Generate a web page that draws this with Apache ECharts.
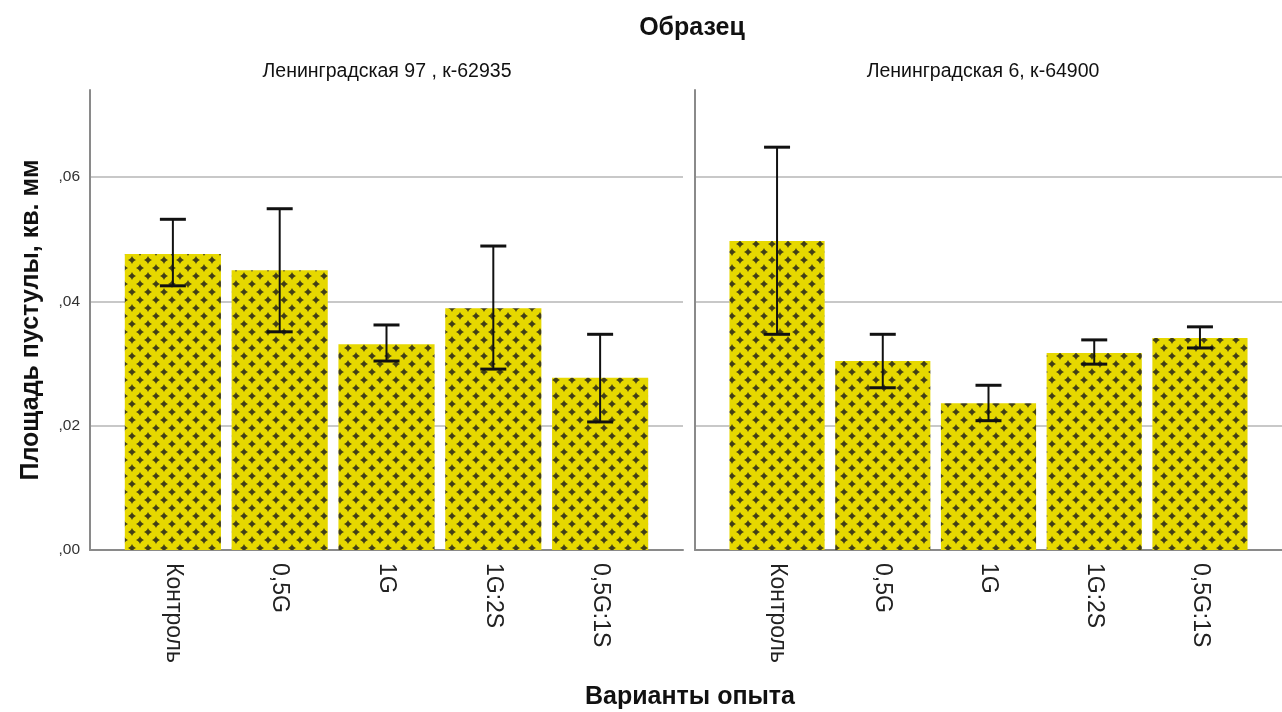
<!DOCTYPE html>
<html>
<head>
<meta charset="utf-8">
<script src="https://cdn.jsdelivr.net/npm/echarts@6/dist/echarts.min.js"></script>
<style>
html,body{margin:0;padding:0;background:#fff;}
#chart{width:1282px;height:712px;}
</style>
</head>
<body>
<div id="chart"></div>
<script>
// ---- data ----
const categories = ['Контроль', '0,5G', '1G', '1G:2S', '0,5G:1S'];
const panelTitles = ['Ленинградская 97 , к-62935', 'Ленинградская 6, к-64900'];
const meansLeft  = [0.0476, 0.0450, 0.0331, 0.0389, 0.0277];
const lowLeft    = [0.0425, 0.0351, 0.0304, 0.0291, 0.0206];
const highLeft   = [0.0532, 0.0549, 0.0362, 0.0489, 0.0347];
const meansRight = [0.0497, 0.0304, 0.0236, 0.0317, 0.0341];
const lowRight   = [0.0347, 0.0261, 0.0208, 0.0299, 0.0325];
const highRight  = [0.0648, 0.0347, 0.0265, 0.0338, 0.0359];
const yTickValues = [0, 0.02, 0.04, 0.06];
const yTickLabels = [',00', ',02', ',04', ',06'];
const mainTitle = 'Образец';
const xTitle = 'Варианты опыта';
const yTitle = 'Площадь пустулы, кв. мм';

// ---- pattern fill ----
function makePattern() {
  const c = document.createElement('canvas');
  c.width = 16; c.height = 16;
  const g = c.getContext('2d');
  g.fillStyle = '#e6d800';
  g.fillRect(0, 0, 16, 16);
  g.fillStyle = '#423f16';
  function star(cx, cy) {
    g.beginPath();
    g.moveTo(cx, cy - 4);
    g.lineTo(cx + 0.9, cy - 2.2);
    g.lineTo(cx + 2.2, cy - 0.9);
    g.lineTo(cx + 4, cy);
    g.lineTo(cx + 2.2, cy + 0.9);
    g.lineTo(cx + 0.9, cy + 2.2);
    g.lineTo(cx, cy + 4);
    g.lineTo(cx - 0.9, cy + 2.2);
    g.lineTo(cx - 2.2, cy + 0.9);
    g.lineTo(cx - 4, cy);
    g.lineTo(cx - 2.2, cy - 0.9);
    g.lineTo(cx - 0.9, cy - 2.2);
    g.closePath();
    g.fill();
  }
  [[4, 4], [12, 12], [-4, 12], [20, 4], [4, 20], [12, -4], [20, 20], [-4, -4], [20, -4], [-4, 20]].forEach(p => star(p[0], p[1]));
  return c;
}
const pattern = { image: makePattern(), repeat: 'repeat' };

const chart = echarts.init(document.getElementById('chart'), null, { renderer: 'canvas' });
const FONT = '"Liberation Sans", Arial, sans-serif';

function xAxisDef(gi) {
  return {
    type: 'value', gridIndex: gi, min: -0.776, max: 4.776,
    splitLine: { show: false },
    axisTick: { show: false },
    axisLine: { show: true, onZero: false, lineStyle: { color: '#8a8a8a', width: 2 } },
    axisLabel: {
      customValues: [0, 1, 2, 3, 4],
      formatter: v => categories[Math.round(v)],
      rotate: -90, margin: 13,
      fontFamily: FONT, fontSize: 23, color: '#222'
    }
  };
}
function yAxisDef(gi, showLabels) {
  return {
    type: 'value', gridIndex: gi, min: 0, max: 0.074, interval: 0.02,
    axisLine: { show: true, onZero: false, lineStyle: { color: '#8a8a8a', width: 2 } },
    axisTick: { show: false },
    splitLine: { show: true, lineStyle: { color: ['#c8c8c8', '#c8c8c8', '#c8c8c8', '#c8c8c8', 'rgba(0,0,0,0)'], width: 2 } },
    axisLabel: {
      show: showLabels, margin: 10,
      fontFamily: FONT, fontSize: 15.5, color: '#333',
      formatter: v => {
        const i = yTickValues.findIndex(t => Math.abs(t - v) < 1e-9);
        return i >= 0 ? yTickLabels[i] : '';
      }
    },
    name: showLabels ? yTitle : '',
    nameLocation: 'middle', nameRotate: 90, nameGap: 46,
    nameTextStyle: { fontFamily: FONT, fontSize: 25, fontWeight: 'bold', color: '#111' }
  };
}
function errRender(params, api) {
  const x = api.value(0), lo = api.value(1), hi = api.value(2);
  const pH = api.coord([x, hi]);
  const pL = api.coord([x, lo]);
  const w = 13;
  return {
    type: 'group',
    children: [
      { type: 'line', shape: { x1: pH[0], y1: pH[1], x2: pL[0], y2: pL[1] }, style: { stroke: '#111', lineWidth: 2 } },
      { type: 'line', shape: { x1: pH[0] - w, y1: pH[1], x2: pH[0] + w, y2: pH[1] }, style: { stroke: '#111', lineWidth: 3 } },
      { type: 'line', shape: { x1: pL[0] - w, y1: pL[1], x2: pL[0] + w, y2: pL[1] }, style: { stroke: '#111', lineWidth: 3 } }
    ]
  };
}
function barSeries(gi, means) {
  return {
    type: 'bar', xAxisIndex: gi, yAxisIndex: gi,
    data: means.map((v, i) => [i, v]),
    barWidth: '90%',
    itemStyle: { color: pattern },
    silent: true, z: 2
  };
}
function errSeries(gi, lows, highs) {
  return {
    type: 'custom', xAxisIndex: gi, yAxisIndex: gi,
    data: lows.map((lo, i) => [i, lo, highs[i]]),
    encode: { x: 0, y: [1, 2] },
    renderItem: errRender, silent: true, z: 5
  };
}

const option = {
  animation: false,
  backgroundColor: '#fff',
  grid: [
    { left: 90, width: 593, top: 90, bottom: 162 },
    { left: 695, width: 593, top: 90, bottom: 162 }
  ],
  xAxis: [xAxisDef(0), xAxisDef(1)],
  yAxis: [yAxisDef(0, true), yAxisDef(1, false)],
  series: [
    barSeries(0, meansLeft), errSeries(0, lowLeft, highLeft),
    barSeries(1, meansRight), errSeries(1, lowRight, highRight)
  ],
  graphic: [
    { type: 'text', x: 692, y: 28, style: { text: mainTitle, fontFamily: FONT, fontSize: 25, fontWeight: 'bold', fill: '#111', align: 'center', verticalAlign: 'middle' } },
    { type: 'text', x: 387, y: 72, style: { text: panelTitles[0], fontFamily: FONT, fontSize: 19.5, fill: '#111', align: 'center', verticalAlign: 'middle' } },
    { type: 'text', x: 983, y: 72, style: { text: panelTitles[1], fontFamily: FONT, fontSize: 19.5, fill: '#111', align: 'center', verticalAlign: 'middle' } },
    { type: 'text', x: 690, y: 697, style: { text: xTitle, fontFamily: FONT, fontSize: 25, fontWeight: 'bold', fill: '#111', align: 'center', verticalAlign: 'middle' } }
  ]
};
chart.setOption(option);
</script>
</body>
</html>
